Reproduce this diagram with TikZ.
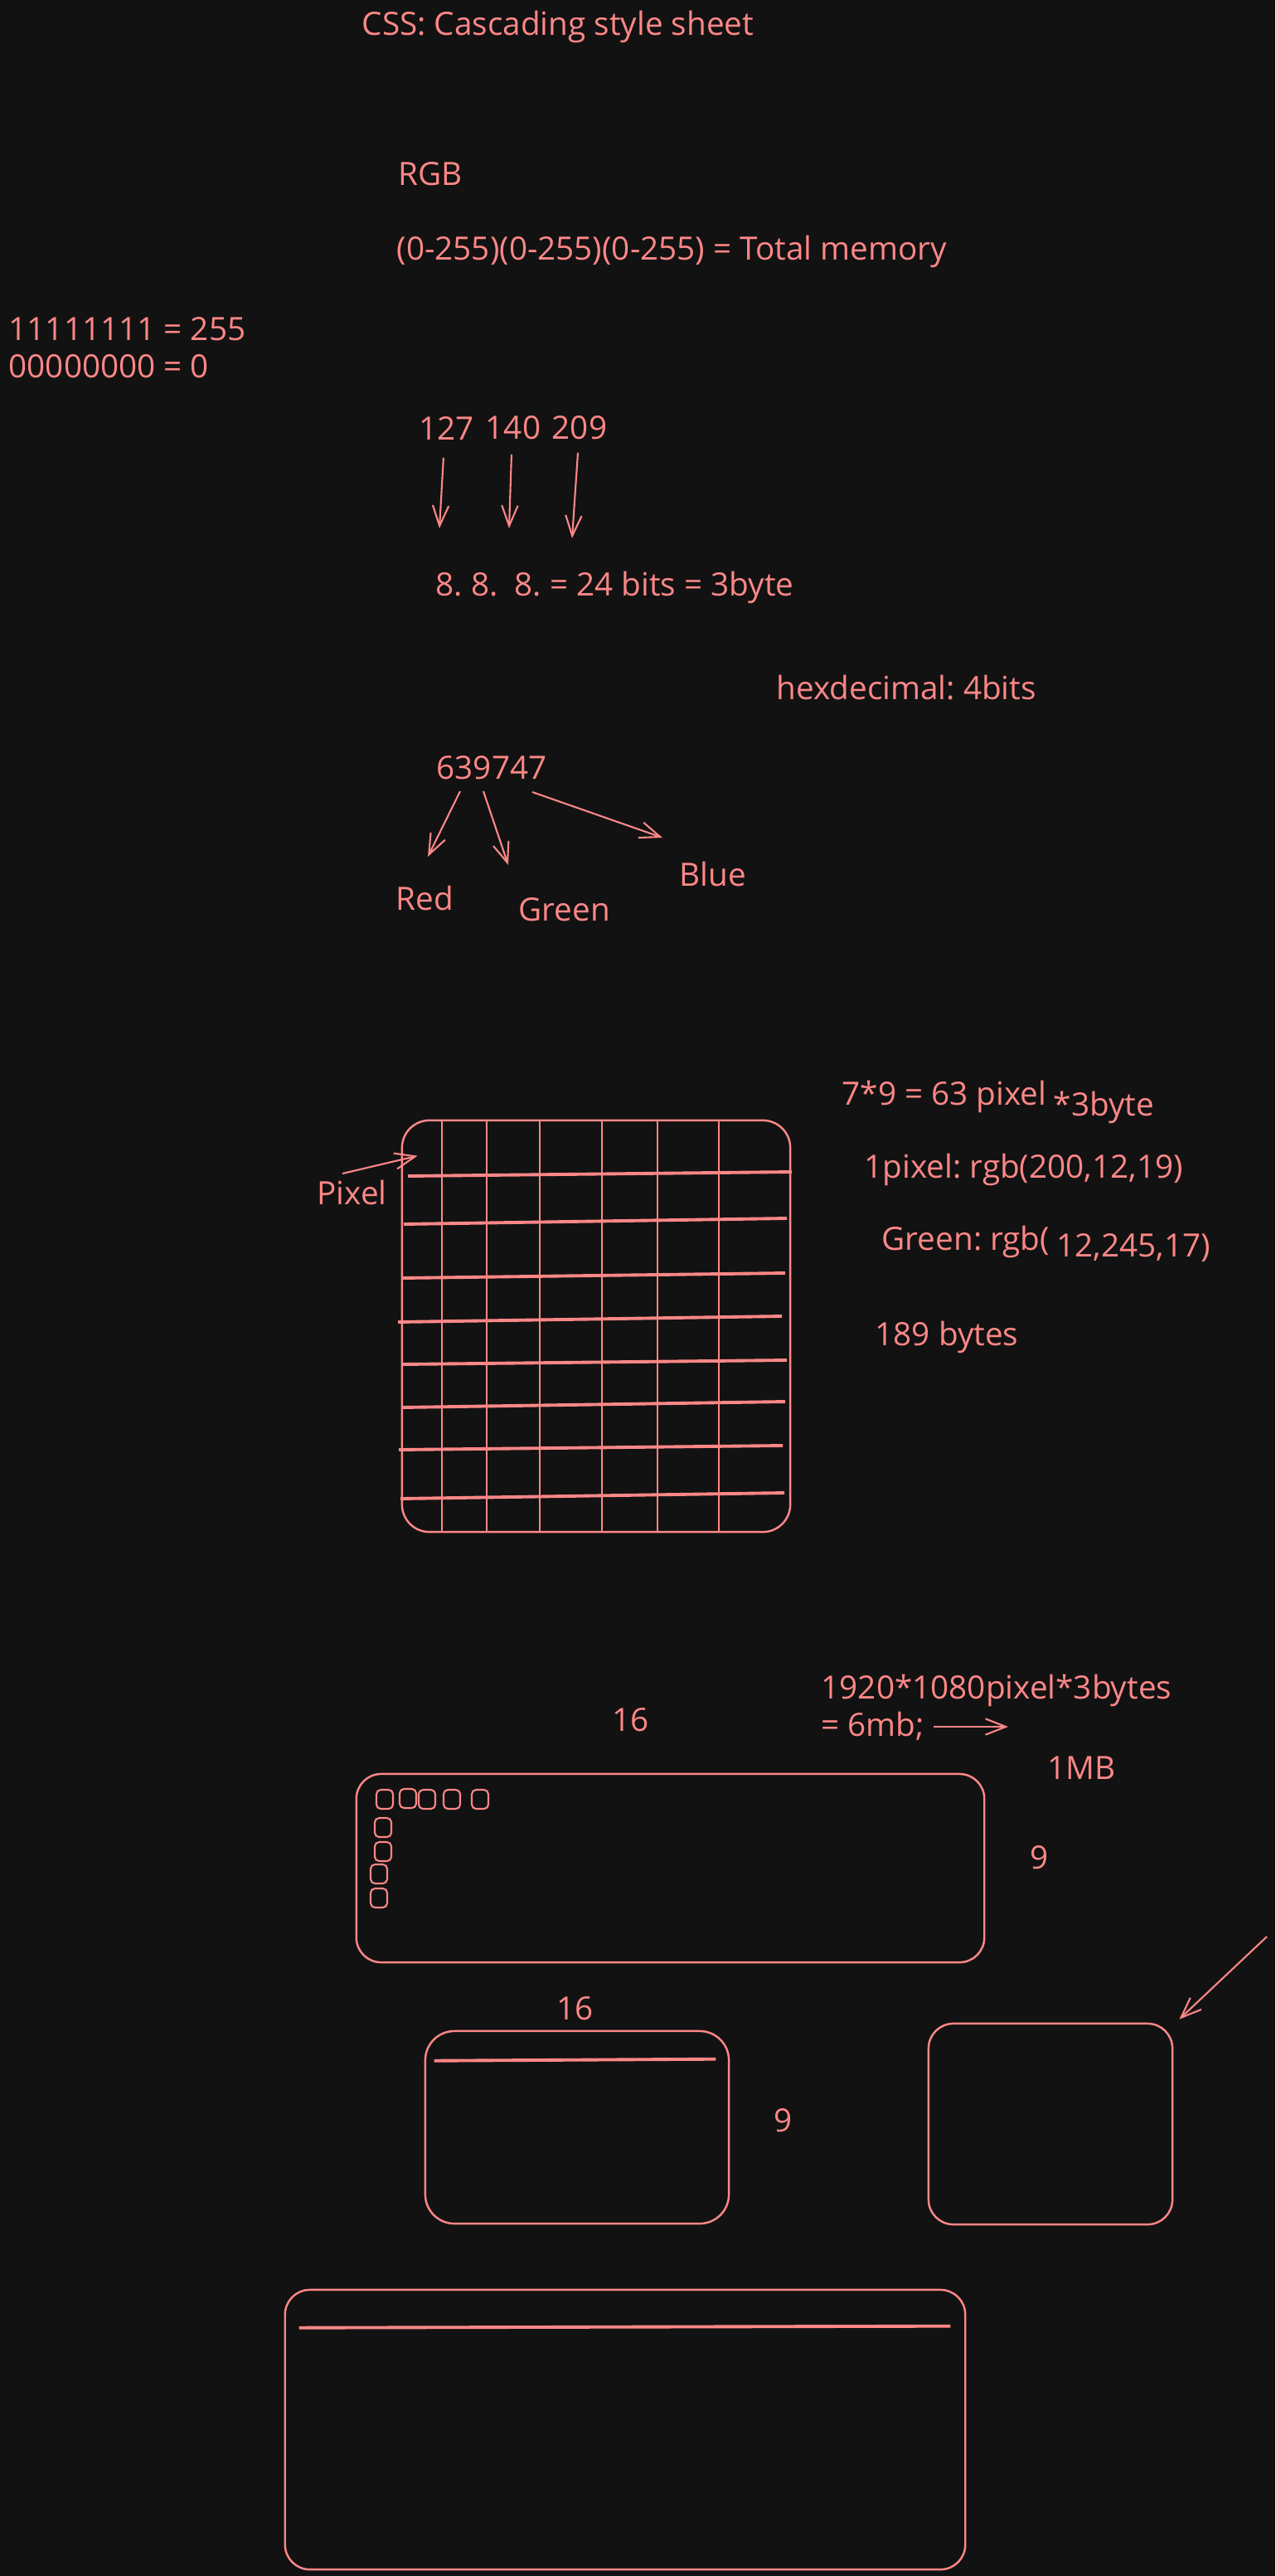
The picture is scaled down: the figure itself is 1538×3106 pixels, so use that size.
\documentclass[tikz,border=0pt]{standalone}
\usepackage{fontspec}
\newfontfamily\handfont{Open Sans}
\usetikzlibrary{arrows.meta,positioning}
\definecolor{sketch}{RGB}{255,135,135}
\definecolor{canvas}{RGB}{18,18,18}
\frenchspacing

\begin{document}
\begin{tikzpicture}[
  x=0.01cm, y=-0.01cm,
  txt/.style={anchor=base west, inner sep=0pt, text=sketch,
    font=\handfont\fontsize{11pt}{13pt}\selectfont},
  arr/.style={-{Straight Barb[length=7pt,width=5.5pt]}, draw=sketch, line width=0.6pt},
  frame/.style={draw=sketch, line width=0.7pt, rounded corners=8.5pt, inner sep=0pt},
  cell/.style={draw=sketch, line width=0.6pt, rounded corners=1.5pt},
  rule/.style={draw=sketch, line width=1.1pt}
]
  \fill[canvas] (0,0) rectangle (1538,3106);

  % header and RGB notes
  \node[txt] (css) at (436,43) {CSS: Cascading style sheet};
  \node[txt] (rgb) at (480,224) {RGB};
  \node[txt] (range) at (478,313) {(0-255)(0-255)(0-255) = Total memory};
  \node[txt] (ones) at (10,410) {11111111 = 255};
  \node[txt] (zeros) at (10,455) {00000000 = 0};

  % three channel values
  \node[txt] (n127) at (505,530) {127};
  \node[txt, right=3.5pt of n127] (n140) {140};
  \node[txt, right=3.5pt of n140] (n209) {209};
  \node[txt] (bits) at (525,718) {8. 8.\ \ 8. = 24 bits = 3byte};
  \draw[arr] ([shift={(-4,22)}]n127.base) -- ([shift={(5,-81)}]bits.base west);
  \draw[arr] ([shift={(-2,18)}]n140.base) -- ([shift={(89,-81)}]bits.base west);
  \draw[arr] ([shift={(-2,16)}]n209.base) -- ([shift={(165,-69)}]bits.base west);

  % hex split
  \node[txt] (hexdec) at (936,843) {hexdecimal: 4bits};
  \node[txt] (hex) at (526,939) {639747};
  \node[txt] (red) at (477,1097) {Red};
  \node[txt] (green) at (625,1110) {Green};
  \node[txt] (blue) at (819,1068) {Blue};
  \draw[arr] ([shift={(29,15)}]hex.base west) -- ([shift={(39,-64)}]red.base west);
  \draw[arr] ([shift={(57,15)}]hex.base west) -- ([shift={(-12,-67)}]green.base west);
  \draw[arr] ([shift={(116,16)}]hex.base west) -- ([shift={(-20,-58)}]blue.base west);

  % 7 x 9 pixel grid
  \node[frame, minimum width=4.68cm, minimum height=4.96cm, rounded corners=9.4pt] (grid) at (719,1599) {};
  \foreach \gx in {533,587,651,726,793,867}
    \draw[sketch, line width=0.6pt] (\gx,1351) -- (\gx,1847);
  \foreach \xl/\yl/\xr/\yr in {492/1418/955/1413, 487/1476/949/1469, 485/1541/947/1535,
      480/1594/943/1587, 486/1645/949/1640, 485/1697/947/1690, 481/1748/944/1743,
      483/1807/946/1800}
    \draw[rule] (\xl,\yl) -- (\xr,\yr);
  \node[txt] (pixel) at (382,1452) {Pixel};
  \draw[arr] ([shift={(31,-37)}]pixel.base west) -- ([shift={(20,44)}]grid.north west);

  \node[txt] (area) at (1015,1332) {7*9 = 63 pixel};
  \node[txt] (times) at (1270,1345) {*3byte};
  \node[txt] (onepx) at (1042,1420) {1pixel: rgb(200,12,19)};
  \node[txt] (greenpx) at (1063,1507) {Green: rgb(};
  \node[txt] (greenval) at (1274,1515) {12,245,17)};
  \node[txt] (total) at (1055,1622) {189 bytes};

  % full screen
  \node[txt] (w16) at (738,2087) {16};
  \node[txt] (hd) at (990,2048) {1920*1080pixel*3bytes};
  \node[txt] (mb) at (990,2093) {= 6mb;};
  \coordinate (mbtip) at (1216,2082);
  \draw[arr] ([shift={(136,-11)}]mb.base west) -- (mbtip);
  \node[txt] (onemb) at (1263,2145) {1MB};
  \node[frame, minimum width=7.57cm, minimum height=2.27cm] (screen) at (808.5,2252.5) {};
  \foreach \sx/\sy in {454/2158, 482/2157, 505/2158, 535/2158, 569/2158,
      452/2192, 452/2221, 447/2248, 447/2277}
    \draw[cell] (\sx,\sy) rectangle ++(20,23);
  \node[txt] (h9) at (1242,2253) {9};

  % smaller windows
  \node[txt] (w16b) at (671,2435) {16};
  \node[frame, minimum width=3.66cm, minimum height=2.32cm, rounded corners=10pt] (winA) at (696,2565) {};
  \draw[rule] ([shift={(12,37)}]winA.north west) -- ([shift={(-17,35)}]winA.north east);
  \node[txt] (h9b) at (933,2570) {9};
  \node[frame, minimum width=2.94cm, minimum height=2.42cm] (winB) at (1267,2561) {};
  \coordinate (diag) at (1528,2335);
  \draw[arr] (diag) -- ([shift={(7,-4)}]winB.north east);
  \node[frame, minimum width=8.20cm, minimum height=3.37cm] (winC) at (754,2929.5) {};
  \draw[rule] ([shift={(18,47)}]winC.north west) -- ([shift={(-19,45)}]winC.north east);
\end{tikzpicture}
\end{document}
